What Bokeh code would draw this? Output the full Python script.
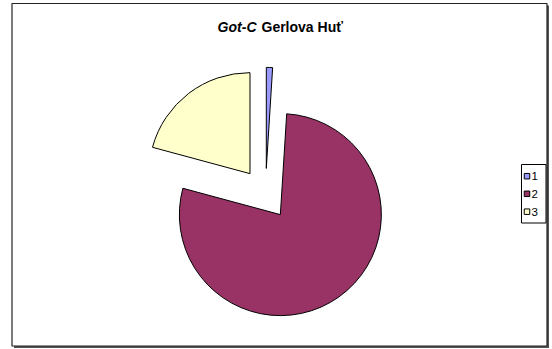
import numpy as np
from bokeh.plotting import figure
from bokeh.models import Range1d, ColumnDataSource
from bokeh.core.properties import value
from bokeh.embed import file_html
from bokeh.resources import INLINE

# ---- data ----
categories = ["1", "2", "3"]
shares = [1.0, 78.2, 20.8]
colors = ["#9999FF", "#993366", "#FFFFCC"]
title_italic = "Got-C"
title_rest = "Gerlova Huť"

W, H = 552, 349
FONT = "Liberation Sans"

p = figure(width=W, height=H, x_range=Range1d(0, W), y_range=Range1d(0, H),
           output_backend="svg", toolbar_location=None,
           x_axis_location=None, y_axis_location=None,
           min_border=0, min_border_left=0, min_border_right=0,
           min_border_top=0, min_border_bottom=0)
p.grid.visible = False
p.outline_line_color = None
p.background_fill_color = "white"
p.border_fill_color = "white"

def sy(y):
    # screen y (from top) to data y
    return H - y

# chart area border with shadow
p.quad(left=[13.5], right=[548.5], top=[sy(5)], bottom=[sy(347.5)],
       fill_color="#555555", line_color=None)
p.quad(left=[11.5], right=[546.5], top=[sy(3)], bottom=[sy(345.5)],
       fill_color="white", line_color="#222222", line_width=1.2)

# ---- pie ----
vals = np.array(shares, dtype=float)
frac = vals / vals.sum()
cum = np.cumsum(frac)
s = 2 * np.pi * (cum - frac)
e = 2 * np.pi * cum
m = (s + e) / 2
cx, cy, r, ex = 265.0, sy(193.4), 101.0, 25.5
src = ColumnDataSource(dict(
    x=cx + ex * np.sin(m),
    y=cy + ex * np.cos(m),
    start=np.pi / 2 - e,
    end=np.pi / 2 - s,
    color=colors,
    label=categories,
))
p.wedge(x="x", y="y", radius=r, start_angle="start", end_angle="end",
        fill_color="color", line_color="black", line_width=1, source=src)

# ---- title ----
p.text(x=[256], y=[sy(26.5)], text=[title_italic], text_font=value(FONT),
       text_font_size="14px", text_font_style="bold italic",
       text_align="right", text_baseline="alphabetic", text_color="black")
p.text(x=[261], y=[sy(26.5)], text=[title_rest], text_font=value(FONT),
       text_font_size="14px", text_font_style="bold",
       text_align="left", text_baseline="alphabetic", text_color="black")

# ---- legend ----
p.quad(left=[521], right=[545.5], top=[sy(164)], bottom=[sy(222.5)],
       fill_color="white", line_color="black", line_width=1)
ly = sy(np.array([175.7, 193.3, 211.2]))
lsrc = ColumnDataSource(dict(x=[526.5] * 3, y=ly, color=colors, label=categories))
p.rect(x="x", y="y", width=5.5, height=5.5, fill_color="color", line_color="black",
       line_width=1, source=lsrc)
p.text(x=531, y="y", text="label", text_font=value(FONT), text_font_size="11.5px",
       text_align="left", text_baseline="middle", text_color="black", source=lsrc)

open("out.html", "w").write(file_html(p, INLINE))
